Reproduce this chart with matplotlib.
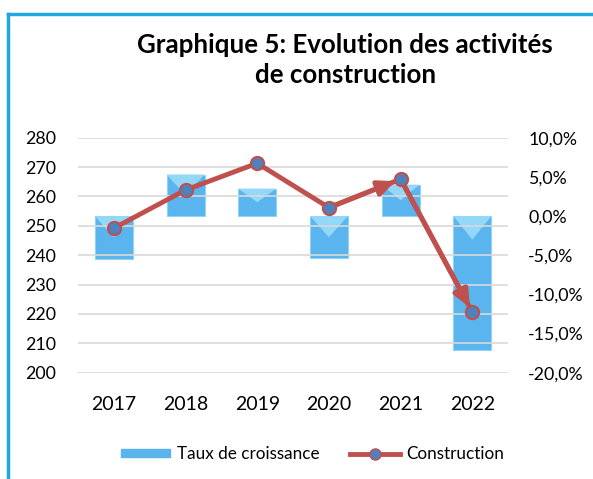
import matplotlib.pyplot as plt
from matplotlib.patches import Polygon, Rectangle
from matplotlib.lines import Line2D

# Données
annees = ["2017", "2018", "2019", "2020", "2021", "2022"]
construction = [249.2, 262.2, 271.3, 256.2, 265.9, 220.6]
taux_croissance = [-5.5, 5.3, 3.5, -5.4, 4.0, -17.1]

plt.rcParams["font.family"] = ["Lato", "DejaVu Sans"]

fig = plt.figure(figsize=(5.93, 4.79), dpi=100)
ax = fig.add_axes([0.1315, 0.222, 0.7255, 0.4905])
ax2 = ax.twinx()

x = list(range(len(annees)))

# Barres (axe de droite)
bleu = "#5AB4EE"
barres = ax2.bar(x, taux_croissance, width=0.53, color=bleu, edgecolor="#8FD3F7",
                 linewidth=0.8, zorder=2)
for b in barres:
    x0 = b.get_x()
    w = b.get_width()
    y0 = b.get_y()
    h = b.get_height()
    haut = max(y0, y0 + h)
    bas = min(y0, y0 + h)
    tri = Polygon([(x0, haut), (x0 + w, haut), (x0 + w / 2, haut - min(3.0, (haut - bas) * 0.5))],
                  closed=True, color="#93D8F8", zorder=3, lw=0)
    ax2.add_patch(tri)
ax2.set_ylim(-20, 10)
ax2.set_yticks([-20, -15, -10, -5, 0, 5, 10])
ax2.set_yticklabels(["-20,0%", "-15,0%", "-10,0%", "-5,0%", "0,0%", "5,0%", "10,0%"])

# Ligne (axe de gauche)
ax.set_zorder(ax2.get_zorder() + 1)
ax.patch.set_visible(False)
rouge = "#C0504D"
ax.plot(x, construction, color=rouge, lw=3.5, zorder=4, solid_capstyle="butt")
for i in [3, 4]:
    ax.annotate("", xy=(x[i + 1], construction[i + 1]), xytext=(x[i], construction[i]),
                arrowprops=dict(arrowstyle="-|>,head_length=1.0,head_width=0.45",
                                color=rouge, lw=3.5, shrinkA=0, shrinkB=4),
                zorder=4)
ax.plot(x, construction, "o", color="#4F81BD", markeredgecolor=rouge,
        markeredgewidth=1.5, markersize=9.5, zorder=5)
ax.set_ylim(200, 280)
ax.set_yticks(range(200, 281, 10))
ax.set_xlim(-0.5, 5.5)
ax.set_xticks(x)
ax.set_xticklabels(annees)

for a in [ax, ax2]:
    for s in a.spines.values():
        s.set_visible(False)
ax.tick_params(axis="y", length=0, labelsize=12.8, pad=16)
ax2.tick_params(axis="y", length=0, labelsize=12.8, pad=14.5)
ax.tick_params(axis="x", length=0, labelsize=14, pad=17)
ax2.grid(False)
for v in range(200, 281, 10):
    ax.axhline(v, color="#D9D9D9", lw=1.2, zorder=0)

# Titre
fig.text(0.582, 0.874, "Graphique 5: Evolution des activités\nde construction",
         ha="center", va="center", fontsize=18.6, fontweight="bold", linespacing=1.3)

# Légende
h_bar = Rectangle((0, 0), 1, 1, color=bleu)
h_line = Line2D([], [], color=rouge, lw=3.5, marker="o", markerfacecolor="#4F81BD",
                markeredgecolor=rouge, markersize=8)
fig.legend([h_bar, h_line], ["Taux de croissance", "Construction"],
           loc="center", bbox_to_anchor=(0.527, 0.052), ncol=2, frameon=False,
           fontsize=12.3, handlelength=2.9, handleheight=0.35, columnspacing=1.8,
           handletextpad=0.4)

# Cadre
fig.add_artist(Line2D([0.0135, 0.0135], [0.0, 0.971], color="#1FA8E0", lw=2.5))
fig.add_artist(Line2D([0.0135, 1.0], [0.971, 0.971], color="#1FA8E0", lw=2.5))

plt.savefig("out.png")
